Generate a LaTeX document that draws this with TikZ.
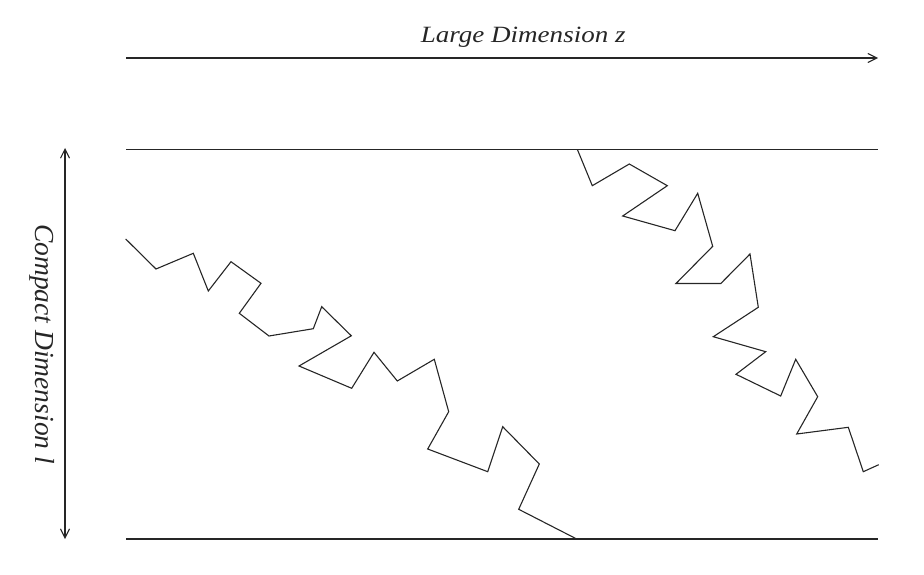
\documentclass[tikz,border=0pt]{standalone}
\usepackage{fontspec}
\setmainfont{Liberation Serif}
\usetikzlibrary{arrows.meta}
\begin{document}
\begin{tikzpicture}[x=1pt,y=-1pt,
  line/.style={line width=1.1pt, draw=black!85},
  walk/.style={line width=1.1pt, draw=black!85, line join=miter},
  barb/.tip={Straight Barb[length=9pt,width=9pt,line width=1.1pt]},
  lab/.style={text=black!85, inner sep=0pt}]
\useasboundingbox (0,0) rectangle (924,575);
% coordinates
\coordinate (za) at (126,58);
\coordinate (zb) at (878,58);
\coordinate (la) at (65,148);
\coordinate (lb) at (65,539);
\coordinate (t1) at (126,149.3);
\coordinate (t2) at (878,149.3);
\coordinate (b1) at (126,539);
\coordinate (b2) at (878,539);
% labels
\node[lab, anchor=base west] (zlab) at (420.7,42.7)
  {\scalebox{1.16}[1]{\itshape\fontsize{23.3}{28}\selectfont Large Dimension z}};
\node[lab, rotate=-90, anchor=base west] (llab) at (35,224)
  {\itshape\fontsize{27.5}{32}\selectfont Compact Dimension l};
% axes
\draw[line, -barb] (za) -- (zb);
\draw[line, barb-barb] (la) -- (lb);
% boundaries
\draw[line] (t1) -- (t2);
\draw[line] (b1) -- (b2);
% first random walk
\draw[walk] (125.7,239) -- (156,269) -- (193.3,253.3) -- (208.3,291) -- (231,261.7)
  -- (261,283.3) -- (239.3,313.3) -- (269,336) -- (313.3,328.7) -- (321.7,306.7)
  -- (351.3,335.8) -- (299,366) -- (351.7,388.3) -- (374,352.3) -- (397.3,381)
  -- (434.3,359.3) -- (448.7,411.7) -- (427.7,449) -- (487.7,471.7) -- (502.7,426.7)
  -- (539.3,464) -- (518.7,509.3) -- (576.7,539);
% second random walk
\draw[walk] (577.3,149.3) -- (592.3,185.7) -- (629.3,164) -- (667.3,185.7)
  -- (622.7,216) -- (675,230.7) -- (697.7,193.3) -- (712.7,246.3) -- (676,283.5)
  -- (720.8,283.5) -- (750,254) -- (758.3,307.3) -- (713.3,336.7) -- (765.7,351.7)
  -- (736,374.3) -- (780.7,396) -- (795.7,359.3) -- (817.7,396.7) -- (796.7,434)
  -- (848.3,427.3) -- (863.3,471.7) -- (878.7,464.7);
\end{tikzpicture}
\end{document}
